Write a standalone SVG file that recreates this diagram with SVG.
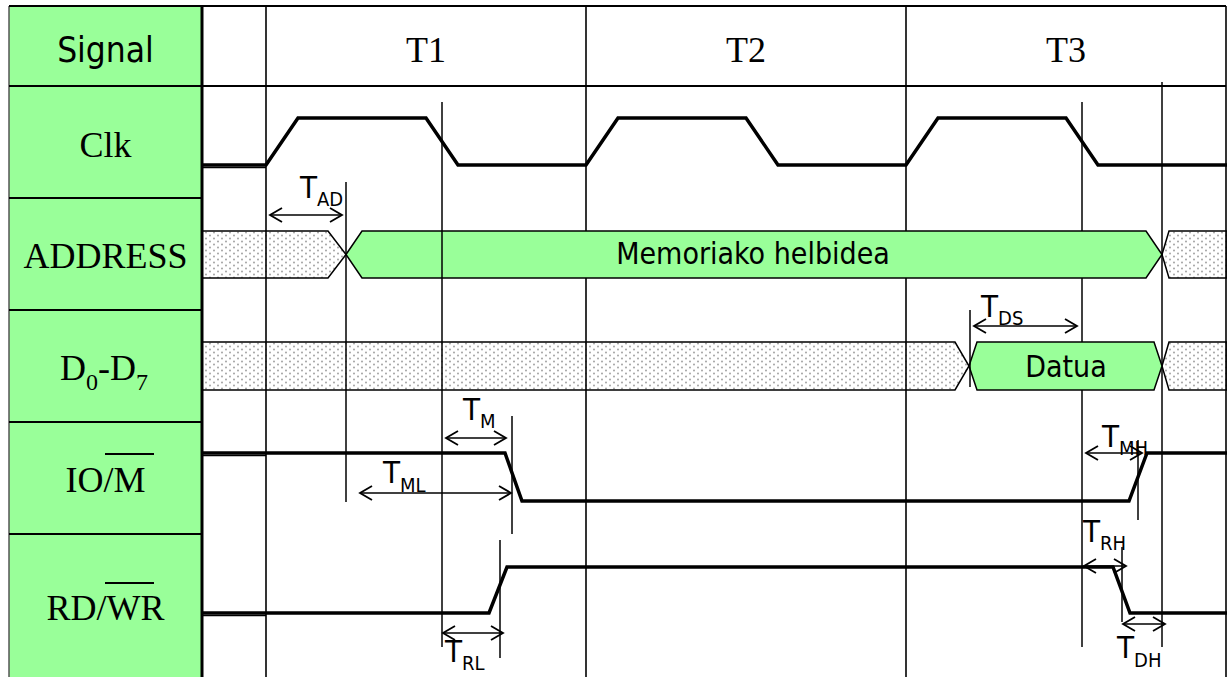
<svg xmlns="http://www.w3.org/2000/svg" width="1227" height="677" viewBox="0 0 1227 677">
<defs>
<pattern id="dots" width="8" height="6" patternUnits="userSpaceOnUse">
<rect width="8" height="6" fill="#fff"/>
<circle cx="2" cy="1.5" r="0.9" fill="#9a9a9a"/>
<circle cx="6" cy="4.5" r="0.9" fill="#9a9a9a"/>
</pattern>
<marker id="ah" viewBox="-14 -9 16 18" refX="0" refY="0" markerWidth="16" markerHeight="18" markerUnits="userSpaceOnUse" orient="auto-start-reverse">
<path d="M-12,-7 L0,0 L-12,7" fill="none" stroke="#000" stroke-width="1.8"/>
</marker>
</defs>
<style>
.grid{stroke:#000;stroke-width:1.6;fill:none}
.cell{stroke:#000;stroke-width:2;fill:none}
.sig{stroke:#000;stroke-width:3.5;fill:none;stroke-linejoin:miter}
.ref{stroke:#000;stroke-width:1.5}
.arr{stroke:#000;stroke-width:1.5;fill:none;marker-start:url(#ah);marker-end:url(#ah)}
.hatch{fill:url(#dots);stroke:#000;stroke-width:1.5}
.bus{fill:#99FF99;stroke:#000;stroke-width:1.5}
.serif{font-family:'Liberation Serif','Times New Roman',serif;font-size:36px;fill:#000}
.sans{font-family:'DejaVu Sans Condensed','DejaVu Sans',sans-serif;font-stretch:condensed;fill:#000}
.t{font-size:31px}
.sub{font-size:20px}
</style>
<rect width="1227" height="677" fill="#fff"/>

<g id="label-column">
<rect x="9" y="6" width="193" height="671" fill="#99FF99"/>
<line x1="9" y1="6" x2="9" y2="677" stroke="#555" stroke-width="1.5"/>
<line class="cell" x1="9" y1="6" x2="1226" y2="6"/>
<line class="cell" x1="9" y1="86" x2="1226" y2="86"/>
<line class="cell" x1="9" y1="198" x2="202" y2="198"/>
<line class="cell" x1="9" y1="310" x2="202" y2="310"/>
<line class="cell" x1="9" y1="422" x2="202" y2="422"/>
<line class="cell" x1="9" y1="534" x2="202" y2="534"/>
</g>

<g id="hatched">
<polygon class="hatch" points="202,231 328,231 346,254.5 328,278 202,278"/>
<polygon class="hatch" points="1227,231 1169,231 1162,254.5 1169,278 1227,278"/>
<polygon class="hatch" points="202,342 955,342 969,366 955,390 202,390"/>
<polygon class="hatch" points="1227,342 1169,342 1162,366 1169,390 1227,390"/>
</g>

<g id="grid">
<line class="grid" x1="266" y1="6" x2="266" y2="677"/>
<line class="grid" x1="586" y1="6" x2="586" y2="677"/>
<line class="grid" x1="906" y1="6" x2="906" y2="677"/>
<line class="grid" x1="1226" y1="6" x2="1226" y2="677"/>
<line class="grid" x1="202" y1="167.5" x2="266" y2="167.5"/>
<line class="grid" x1="202" y1="455.5" x2="266" y2="455.5"/>
<line class="grid" x1="202" y1="615.5" x2="266" y2="615.5"/>
<line class="ref" x1="1082" y1="102" x2="1082" y2="647"/>
<line class="ref" x1="1162" y1="82" x2="1162" y2="647"/>
</g>

<g id="address-bus">
<polygon class="bus" points="346,254.5 362,231 1146,231 1162,254.5 1146,278 362,278"/>
<text class="sans" x="753" y="264" font-size="30" text-anchor="middle">Memoriako helbidea</text>
</g>
<g id="data-bus">
<polygon class="bus" points="969,366 977,342 1154,342 1162,366 1154,390 977,390"/>
<text class="sans" x="1066" y="377" font-size="30" text-anchor="middle">Datua</text>
</g>

<g id="ref-lines">
<line class="ref" x1="346" y1="182" x2="346" y2="502"/>
<line class="ref" x1="442" y1="102" x2="442" y2="647"/>
<line class="ref" x1="512" y1="416" x2="512" y2="534"/>
<line class="ref" x1="500" y1="540" x2="500" y2="658"/>
<line class="ref" x1="970" y1="310" x2="970" y2="387"/>
<line class="ref" x1="1138" y1="440" x2="1138" y2="520"/>
<line class="ref" x1="1122" y1="547" x2="1122" y2="622"/>
</g>

<g id="clk-signal">
<polyline class="sig" points="202,165 266,165 298,118 426,118 458,165 586,165 618,118 746,118 778,165 906,165 938,118 1066,118 1098,165 1227,165"/>
</g>
<g id="iom-signal">
<polyline class="sig" points="202,453 505,453 522,501 1129,501 1147,453 1227,453"/>
</g>
<g id="rdwr-signal">
<polyline class="sig" points="202,613 489,613 507,567 1113,567 1130,613 1227,613"/>
</g>

<g id="connectors">
<line class="arr" x1="270" y1="215" x2="342" y2="215"/>
<line class="arr" x1="446" y1="438" x2="506" y2="438"/>
<line class="arr" x1="360" y1="493" x2="511" y2="493"/>
<line class="arr" x1="443" y1="633" x2="503" y2="633"/>
<line class="arr" x1="974" y1="326" x2="1077" y2="326"/>
<line class="arr" x1="1086" y1="453" x2="1142" y2="453"/>
<line class="arr" x1="1084" y1="566" x2="1126" y2="566"/>
<line class="arr" x1="1123" y1="624" x2="1165" y2="624"/>
</g>

<g id="timing-labels">
<text class="sans t" x="300" y="198">T<tspan class="sub" dy="8">AD</tspan></text>
<text class="sans t" x="463" y="420">T<tspan class="sub" dy="8">M</tspan></text>
<text class="sans t" x="383" y="483">T<tspan class="sub" dy="9">ML</tspan></text>
<text class="sans t" x="445" y="662">T<tspan class="sub" dy="8">RL</tspan></text>
<text class="sans t" x="981" y="317">T<tspan class="sub" dy="8">DS</tspan></text>
<text class="sans t" x="1102" y="447">T<tspan class="sub" dy="8">MH</tspan></text>
<text class="sans t" x="1083" y="542">T<tspan class="sub" dy="8">RH</tspan></text>
<text class="sans t" x="1117" y="658">T<tspan class="sub" dy="9">DH</tspan></text>
</g>

<g id="column-edge">
<line x1="202" y1="6" x2="202" y2="677" stroke="#000" stroke-width="3"/>
</g>

<g id="header">
<text class="sans" x="105.5" y="62" font-size="35" text-anchor="middle">Signal</text>
<text class="serif" x="426" y="62" text-anchor="middle">T1</text>
<text class="serif" x="746" y="62" text-anchor="middle">T2</text>
<text class="serif" x="1066" y="62" text-anchor="middle">T3</text>
</g>
<g id="row-clk"><text class="serif" x="105.5" y="157" text-anchor="middle">Clk</text></g>
<g id="row-address"><text class="serif" x="105.5" y="268" text-anchor="middle">ADDRESS</text></g>
<g id="row-data"><text class="serif" x="60" y="380">D<tspan font-size="24" dy="10">0</tspan><tspan dy="-10">-D</tspan><tspan font-size="24" dy="10">7</tspan></text></g>
<g id="row-iom">
<text class="serif" x="105.5" y="492" text-anchor="middle">IO/M</text>
<line x1="105" y1="454" x2="154" y2="454" stroke="#000" stroke-width="2"/>
</g>
<g id="row-rdwr">
<text class="serif" x="105.5" y="620" text-anchor="middle">RD/WR</text>
<line x1="105" y1="583" x2="154" y2="583" stroke="#000" stroke-width="2"/>
</g>
</svg>
